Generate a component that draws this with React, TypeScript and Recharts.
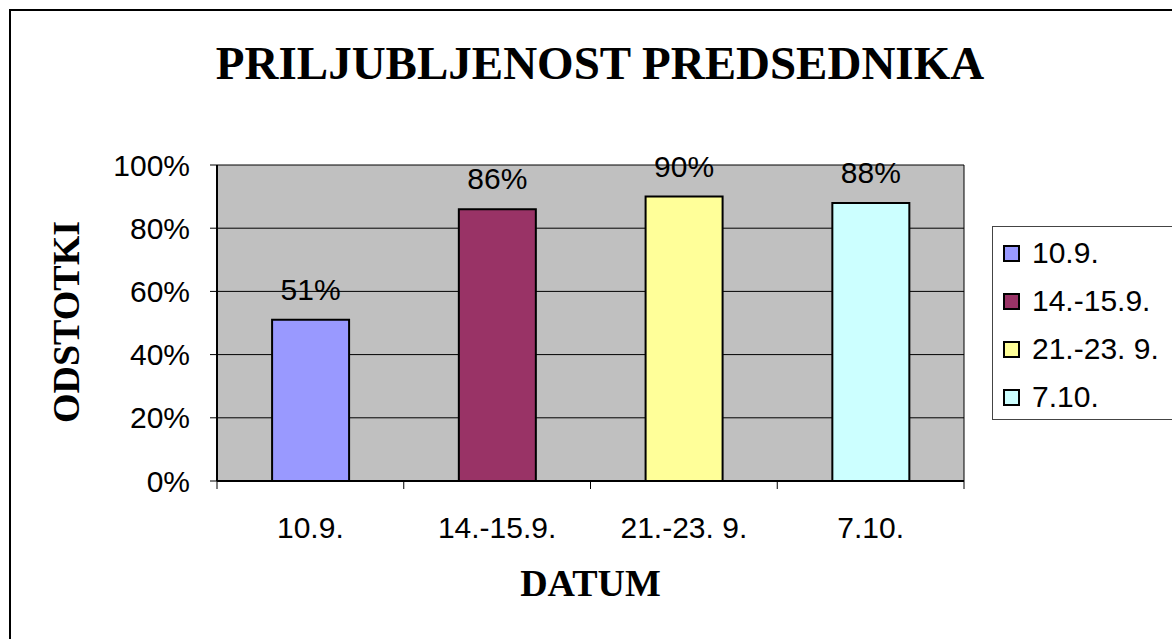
import { BarChart, Bar, XAxis, YAxis, CartesianGrid, Cell, LabelList } from 'recharts'

// survey dates and approval share
const categories = ['10.9.', '14.-15.9.', '21.-23. 9.', '7.10.']
const values = [0.51, 0.86, 0.9, 0.88]
const colors = ['#9999FF', '#993366', '#FFFF99', '#CCFFFF']
const yTicks = [0, 0.2, 0.4, 0.6, 0.8, 1]

const title = 'PRILJUBLJENOST PREDSEDNIKA'
const xTitle = 'DATUM'
const yTitle = 'ODSTOTKI'

const data = categories.map((name, i) => ({ name, value: values[i] }))

const sans = '"Liberation Sans", Arial, sans-serif'
const serif = '"Liberation Serif", "Times New Roman", serif'

const pct = (v: number) => `${Math.round(v * 100)}%`

const X_TICK_SIZE = 8
const X_TICK_MARGIN = 28
const PLOT_W = 1172 - 217 - 208

// category label plus a tick mark on the band edges (Excel style)
function CategoryTick(props: any) {
  const { x, y, payload, index } = props
  const half = payload?.offset || PLOT_W / categories.length / 2
  const axisY = y - X_TICK_SIZE - X_TICK_MARGIN
  const last = index === categories.length - 1
  return (
    <g>
      <line x1={x - half} x2={x - half} y1={axisY} y2={axisY + X_TICK_SIZE} stroke="#000" />
      {last && <line x1={x + half} x2={x + half} y1={axisY} y2={axisY + X_TICK_SIZE} stroke="#000" />}
      <text x={x} y={y} dy="0.71em" textAnchor="middle" fill="#000" fontSize={30} fontFamily={sans}>
        {payload.value}
      </text>
    </g>
  )
}

export default function App() {
  return (
    <div
      style={{
        position: 'fixed',
        left: 0,
        top: 0,
        width: 1172,
        height: 639,
        overflow: 'hidden',
        background: '#fff',
      }}
    >
      {/* outer frame runs off the right and bottom edge */}
      <div
        style={{
          position: 'absolute',
          left: 9,
          top: 9,
          width: 1300,
          height: 800,
          border: '2px solid #000',
        }}
      />
      <div
        style={{
          position: 'absolute',
          left: 0,
          top: 40,
          width: 1200,
          textAlign: 'center',
          fontFamily: serif,
          fontWeight: 'bold',
          fontSize: 47,
          lineHeight: 1,
        }}
      >
        {title}
      </div>
      <div style={{ position: 'absolute', left: 0, top: 0 }}>
        <BarChart
          width={1172}
          height={639}
          data={data}
          margin={{ top: 165, right: 208, bottom: 98, left: 100 }}
          barCategoryGap="29.5%"
        >
          <CartesianGrid
            fill="#C0C0C0"
            fillOpacity={1}
            stroke="#000"
            strokeWidth={1}
            verticalCoordinatesGenerator={(p: any) => [p.offset.left, p.offset.left + p.offset.width]}
          />
          <XAxis
            dataKey="name"
            height={60}
            axisLine={{ stroke: '#000', strokeWidth: 2 }}
            tickLine={false}
            tickSize={X_TICK_SIZE}
            tickMargin={X_TICK_MARGIN}
            tick={<CategoryTick />}
            interval={0}
          />
          <YAxis
            width={117}
            domain={[0, 1]}
            ticks={yTicks}
            tickFormatter={pct}
            tickSize={7}
            tickMargin={20}
            axisLine={{ stroke: '#000', strokeWidth: 2 }}
            tickLine={{ stroke: '#000', strokeWidth: 1 }}
            tick={{ fill: '#000', fontSize: 30, fontFamily: sans }}
          />
          <Bar dataKey="value" stroke="#000" strokeWidth={2} isAnimationActive={false}>
            {data.map((_, i) => (
              <Cell key={`c-${i}`} fill={colors[i]} />
            ))}
            <LabelList
              dataKey="value"
              position="top"
              offset={20}
              formatter={(v: any) => pct(Number(v))}
              style={{ fill: '#000', fontSize: 30, fontFamily: sans }}
            />
          </Bar>
        </BarChart>
      </div>
      <div
        style={{
          position: 'absolute',
          left: 0,
          top: 564,
          width: 1181,
          textAlign: 'center',
          fontFamily: serif,
          fontWeight: 'bold',
          fontSize: 38,
          lineHeight: 1,
        }}
      >
        {xTitle}
      </div>
      <div
        style={{
          position: 'absolute',
          left: 66 - 150,
          top: 322 - 19,
          width: 300,
          textAlign: 'center',
          fontFamily: serif,
          fontWeight: 'bold',
          fontSize: 38,
          lineHeight: '38px',
          transform: 'rotate(-90deg)',
        }}
      >
        {yTitle}
      </div>
      {/* legend */}
      <div
        style={{
          position: 'absolute',
          left: 992,
          top: 226,
          width: 220,
          height: 194,
          border: '1px solid #444',
          boxSizing: 'border-box',
          fontFamily: sans,
          fontSize: 30,
        }}
      >
        {categories.map((c, i) => (
          <div
            key={c}
            style={{
              position: 'absolute',
              left: 10,
              top: 10 + i * 48,
              height: 32,
              display: 'flex',
              alignItems: 'center',
              whiteSpace: 'pre',
            }}
          >
            <span
              style={{
                display: 'inline-block',
                width: 13,
                height: 13,
                background: colors[i],
                border: '2px solid #000',
                marginRight: 12,
              }}
            />
            <span>{c}</span>
          </div>
        ))}
      </div>
    </div>
  )
}
